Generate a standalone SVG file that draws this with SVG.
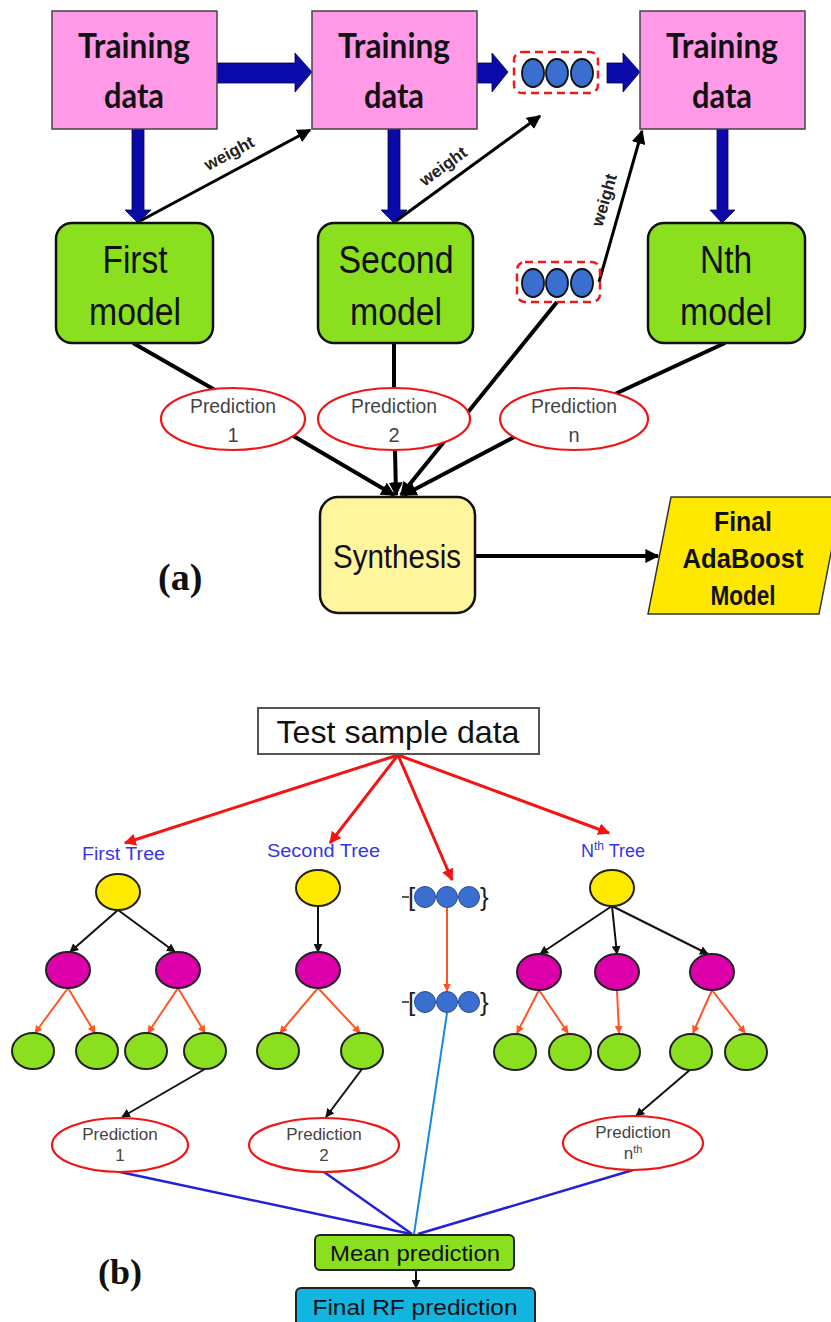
<svg xmlns="http://www.w3.org/2000/svg" width="831" height="1322" viewBox="0 0 831 1322">
<style>
.train{fill:#ff99e8;stroke:#444;stroke-width:1.5}
.model{fill:#8ae01e;stroke:#111;stroke-width:2.5}
.tt{font-family:Lato,"Liberation Sans",sans-serif;font-weight:bold;font-size:35px;fill:#111;text-anchor:middle}
.mt{font-family:"Liberation Sans",Arial,sans-serif;font-size:38px;fill:#111;text-anchor:middle}
.big{fill:#0a0aa8;stroke:#000050;stroke-width:0.8}
.dash{fill:none;stroke:#f01818;stroke-width:2.5;stroke-dasharray:8 5}
.dot{fill:#3a6fd0;stroke:#111;stroke-width:1.8}
.pred{fill:#fff;stroke:#ee1515;stroke-width:2.2}
.pt{font-family:"Liberation Sans",Arial,sans-serif;font-size:20px;fill:#444;text-anchor:middle}
.pt2{font-family:"Liberation Sans",Arial,sans-serif;font-size:17px;fill:#444;text-anchor:middle}
.wt{font-family:"Liberation Sans",Arial,sans-serif;font-weight:bold;font-size:17px;fill:#222;text-anchor:middle}
.ft{font-family:"Liberation Sans",Arial,sans-serif;font-weight:bold;font-size:28px;fill:#111;text-anchor:middle}
.thick{stroke:#000;stroke-width:4;fill:none}
.wl{stroke:#000;stroke-width:3;fill:none}
.red{stroke:#f41414;stroke-width:3;fill:none}
.blk{stroke:#111;stroke-width:2;fill:none}
.org{stroke:#ff5522;stroke-width:2;fill:none}
.blu{stroke:#2222d8;stroke-width:2.5;fill:none}
.lblu{stroke:#1a88dd;stroke-width:2;fill:none}
.yel{fill:#ffea00;stroke:#222;stroke-width:2}
.mag{fill:#dd00aa;stroke:#222;stroke-width:2}
.grn{fill:#8ae01e;stroke:#222;stroke-width:2}
.tl{font-family:"Liberation Sans",Arial,sans-serif;font-size:18px;fill:#3636e6}
.bd{fill:#3a6fd0;stroke:#2a4a90;stroke-width:1}
.br{font-family:"Liberation Sans",Arial,sans-serif;font-size:26px;fill:#222}
.lab{font-family:"Liberation Serif","Times New Roman",serif;font-weight:bold;font-size:38px;fill:#111}
</style>
<defs>
<marker id="ah" viewBox="0 0 10 10" refX="9" refY="5" markerWidth="14" markerHeight="14" markerUnits="userSpaceOnUse" orient="auto"><path d="M0,0 L10,5 L0,10 z" fill="#000"/></marker>
<marker id="ahr" viewBox="0 0 10 10" refX="9" refY="5" markerWidth="12" markerHeight="12" markerUnits="userSpaceOnUse" orient="auto"><path d="M0,0 L10,5 L0,10 z" fill="#f41414"/></marker>
<marker id="ahk" viewBox="0 0 10 10" refX="9" refY="5" markerWidth="9" markerHeight="9" markerUnits="userSpaceOnUse" orient="auto"><path d="M0,0 L10,5 L0,10 z" fill="#111"/></marker>
<marker id="aho" viewBox="0 0 10 10" refX="9" refY="5" markerWidth="8" markerHeight="8" markerUnits="userSpaceOnUse" orient="auto"><path d="M0,0 L10,5 L0,10 z" fill="#ff5522"/></marker>
</defs>
<rect width="831" height="1322" fill="#fff"/>

<g id="connectors">
  <polygon class="big" points="217,63 295,63 295,53 312,72 295,92 295,83 217,83"/>
  <polygon class="big" points="477,63 492,63 492,53 508,72 492,92 492,83 477,83"/>
  <polygon class="big" points="607,63 623,63 623,53 640,72 623,92 623,83 607,83"/>
  <polygon class="big" points="132,129 144,129 144,210 151,210 138,223 125,210 132,210"/>
  <polygon class="big" points="388,129 400,129 400,210 407,210 394,223 381,210 388,210"/>
  <polygon class="big" points="717,129 728,129 728,210 735,210 722,223 710,210 717,210"/>
  <line class="wl" x1="140" y1="221" x2="310" y2="130" marker-end="url(#ah)"/>
  <line class="wl" x1="396" y1="221" x2="540" y2="116" marker-end="url(#ah)"/>
  <line class="wl" x1="599" y1="282" x2="642" y2="131" marker-end="url(#ah)"/>
  <line class="thick" x1="133" y1="343" x2="215" y2="390"/>
  <line class="thick" x1="394" y1="343" x2="394" y2="390"/>
  <line class="thick" x1="725" y1="343" x2="615" y2="394"/>
  <line class="thick" x1="290" y1="434" x2="394" y2="495" marker-end="url(#ah)"/>
  <line class="thick" x1="395" y1="450" x2="396" y2="495" marker-end="url(#ah)"/>
  <line class="thick" x1="557" y1="302" x2="401" y2="495" marker-end="url(#ah)"/>
  <line class="thick" x1="520" y1="434" x2="404" y2="495" marker-end="url(#ah)"/>
  <line class="thick" x1="475" y1="556" x2="658" y2="556" marker-end="url(#ah)"/>
  <line class="red" x1="398" y1="755" x2="125" y2="843" marker-end="url(#ahr)"/>
  <line class="red" x1="398" y1="755" x2="330" y2="843" marker-end="url(#ahr)"/>
  <line class="red" x1="398" y1="755" x2="452" y2="880" marker-end="url(#ahr)"/>
  <line class="red" x1="398" y1="755" x2="609" y2="833" marker-end="url(#ahr)"/>
  <line class="blk" x1="118" y1="910" x2="70" y2="952" marker-end="url(#ahk)"/>
  <line class="blk" x1="118" y1="910" x2="175" y2="952" marker-end="url(#ahk)"/>
  <line class="org" x1="68" y1="988" x2="35" y2="1033" marker-end="url(#aho)"/>
  <line class="org" x1="68" y1="988" x2="95" y2="1033" marker-end="url(#aho)"/>
  <line class="org" x1="178" y1="988" x2="148" y2="1033" marker-end="url(#aho)"/>
  <line class="org" x1="178" y1="988" x2="205" y2="1033" marker-end="url(#aho)"/>
  <line class="blk" x1="318" y1="906" x2="318" y2="952" marker-end="url(#ahk)"/>
  <line class="org" x1="318" y1="988" x2="280" y2="1033" marker-end="url(#aho)"/>
  <line class="org" x1="318" y1="988" x2="360" y2="1033" marker-end="url(#aho)"/>
  <line class="blk" x1="612" y1="906" x2="540" y2="954" marker-end="url(#ahk)"/>
  <line class="blk" x1="612" y1="906" x2="617" y2="954" marker-end="url(#ahk)"/>
  <line class="blk" x1="612" y1="906" x2="708" y2="954" marker-end="url(#ahk)"/>
  <line class="org" x1="539" y1="990" x2="517" y2="1033" marker-end="url(#aho)"/>
  <line class="org" x1="539" y1="990" x2="568" y2="1033" marker-end="url(#aho)"/>
  <line class="org" x1="617" y1="990" x2="619" y2="1033" marker-end="url(#aho)"/>
  <line class="org" x1="712" y1="990" x2="693" y2="1033" marker-end="url(#aho)"/>
  <line class="org" x1="712" y1="990" x2="745" y2="1033" marker-end="url(#aho)"/>
  <line class="org" x1="447" y1="908" x2="447" y2="991" marker-end="url(#aho)"/>
  <line class="lblu" x1="447" y1="1013" x2="414" y2="1234"/>
  <line class="blk" x1="205" y1="1069" x2="122" y2="1117" marker-end="url(#ahk)"/>
  <line class="blk" x1="362" y1="1069" x2="326" y2="1117" marker-end="url(#ahk)"/>
  <line class="blk" x1="691" y1="1069" x2="636" y2="1116" marker-end="url(#ahk)"/>
  <line class="blu" x1="120" y1="1172" x2="411" y2="1234"/>
  <line class="blu" x1="324" y1="1172" x2="412" y2="1234"/>
  <line class="blu" x1="633" y1="1170" x2="418" y2="1234"/>
  <line class="blk" x1="416" y1="1270" x2="416" y2="1288" marker-end="url(#ahk)"/>
</g>

<g id="train1"><rect class="train" x="52" y="11" width="165" height="118"/>
  <text class="tt" x="134" y="58" textLength="112" lengthAdjust="spacingAndGlyphs">Training</text>
  <text class="tt" x="134" y="108" textLength="60" lengthAdjust="spacingAndGlyphs">data</text></g>
<g id="train2"><rect class="train" x="312" y="11" width="165" height="118"/>
  <text class="tt" x="394" y="58" textLength="112" lengthAdjust="spacingAndGlyphs">Training</text>
  <text class="tt" x="394" y="108" textLength="60" lengthAdjust="spacingAndGlyphs">data</text></g>
<g id="train3"><rect class="train" x="640" y="11" width="165" height="118"/>
  <text class="tt" x="722" y="58" textLength="112" lengthAdjust="spacingAndGlyphs">Training</text>
  <text class="tt" x="722" y="108" textLength="60" lengthAdjust="spacingAndGlyphs">data</text></g>

<g id="dotsTop"><rect class="dash" x="514" y="52" width="84" height="41" rx="8"/>
  <ellipse class="dot" cx="533" cy="73" rx="11" ry="14"/><ellipse class="dot" cx="557" cy="73" rx="11" ry="14"/><ellipse class="dot" cx="582" cy="73" rx="11" ry="14"/></g>
<g id="dotsMid"><rect class="dash" x="517" y="262" width="83" height="40" rx="8"/>
  <ellipse class="dot" cx="533" cy="283" rx="11" ry="14"/><ellipse class="dot" cx="557" cy="283" rx="11" ry="14"/><ellipse class="dot" cx="582" cy="283" rx="11" ry="14"/></g>

<g id="weights">
  <text class="wt" transform="translate(229,153) rotate(-28)" y="6">weight</text>
  <text class="wt" transform="translate(443,166) rotate(-36)" y="6">weight</text>
  <text class="wt" transform="translate(604,200) rotate(-74)" y="6">weight</text>
</g>

<g id="model1"><rect class="model" x="56" y="223" width="157" height="120" rx="16"/>
  <text class="mt" x="135" y="273" textLength="65" lengthAdjust="spacingAndGlyphs">First</text>
  <text class="mt" x="135" y="325" textLength="92" lengthAdjust="spacingAndGlyphs">model</text></g>
<g id="model2"><rect class="model" x="318" y="223" width="155" height="120" rx="16"/>
  <text class="mt" x="396" y="273" textLength="115" lengthAdjust="spacingAndGlyphs">Second</text>
  <text class="mt" x="396" y="325" textLength="92" lengthAdjust="spacingAndGlyphs">model</text></g>
<g id="modelN"><rect class="model" x="648" y="223" width="157" height="120" rx="16"/>
  <text class="mt" x="726" y="273" textLength="52" lengthAdjust="spacingAndGlyphs">Nth</text>
  <text class="mt" x="726" y="325" textLength="92" lengthAdjust="spacingAndGlyphs">model</text></g>

<g id="predA1"><ellipse class="pred" cx="233" cy="419" rx="72" ry="31"/>
  <text class="pt" x="233" y="413" textLength="86" lengthAdjust="spacingAndGlyphs">Prediction</text><text class="pt" x="233" y="442">1</text></g>
<g id="predA2"><ellipse class="pred" cx="394" cy="419" rx="76" ry="31"/>
  <text class="pt" x="394" y="413" textLength="86" lengthAdjust="spacingAndGlyphs">Prediction</text><text class="pt" x="394" y="442">2</text></g>
<g id="predAn"><ellipse class="pred" cx="574" cy="419" rx="74" ry="31"/>
  <text class="pt" x="574" y="413" textLength="86" lengthAdjust="spacingAndGlyphs">Prediction</text><text class="pt" x="574" y="442">n</text></g>

<g id="synthesis"><rect x="320" y="497" width="155" height="116" rx="18" fill="#fff59c" stroke="#111" stroke-width="2.5"/>
  <text class="mt" x="397" y="568" style="font-size:34px" textLength="128" lengthAdjust="spacingAndGlyphs">Synthesis</text></g>
<g id="finalAda"><polygon points="671,497 842,497 819,614 648,614" fill="#ffe800" stroke="#333" stroke-width="1.5"/>
  <text class="ft" x="743" y="531" textLength="58" lengthAdjust="spacingAndGlyphs">Final</text>
  <text class="ft" x="743" y="568" textLength="121" lengthAdjust="spacingAndGlyphs">AdaBoost</text>
  <text class="ft" x="743" y="605" textLength="65" lengthAdjust="spacingAndGlyphs">Model</text></g>
<text class="lab" x="158" y="590">(a)</text>

<g id="testSample"><rect x="258" y="708" width="281" height="46" fill="#fff" stroke="#555" stroke-width="2"/>
  <text x="398" y="743" font-family="'Liberation Sans',Arial,sans-serif" font-size="32" fill="#111" text-anchor="middle" textLength="243" lengthAdjust="spacingAndGlyphs">Test sample data</text></g>

<text class="tl" x="82" y="860" textLength="83" lengthAdjust="spacingAndGlyphs">First Tree</text>
<text class="tl" x="267" y="857" textLength="113" lengthAdjust="spacingAndGlyphs">Second Tree</text>
<text class="tl" x="581" y="857">N<tspan dy="-7" font-size="12">th</tspan><tspan dy="7"> Tree</tspan></text>

<g id="tree1">
  <ellipse class="yel" cx="118" cy="892" rx="22" ry="18"/>
  <ellipse class="mag" cx="68" cy="970" rx="22" ry="18"/><ellipse class="mag" cx="178" cy="970" rx="22" ry="18"/>
  <ellipse class="grn" cx="33" cy="1051" rx="21" ry="18"/><ellipse class="grn" cx="97" cy="1051" rx="21" ry="18"/>
  <ellipse class="grn" cx="146" cy="1051" rx="21" ry="18"/><ellipse class="grn" cx="205" cy="1051" rx="21" ry="18"/>
</g>
<g id="tree2">
  <ellipse class="yel" cx="318" cy="888" rx="22" ry="18"/>
  <ellipse class="mag" cx="318" cy="970" rx="22" ry="18"/>
  <ellipse class="grn" cx="278" cy="1051" rx="21" ry="18"/><ellipse class="grn" cx="362" cy="1051" rx="21" ry="18"/>
</g>
<g id="treeN">
  <ellipse class="yel" cx="612" cy="888" rx="22" ry="18"/>
  <ellipse class="mag" cx="539" cy="972" rx="22" ry="18"/><ellipse class="mag" cx="617" cy="972" rx="22" ry="18"/><ellipse class="mag" cx="712" cy="972" rx="22" ry="18"/>
  <ellipse class="grn" cx="515" cy="1052" rx="21" ry="18"/><ellipse class="grn" cx="570" cy="1052" rx="21" ry="18"/>
  <ellipse class="grn" cx="619" cy="1052" rx="21" ry="18"/><ellipse class="grn" cx="691" cy="1052" rx="21" ry="18"/><ellipse class="grn" cx="746" cy="1052" rx="21" ry="18"/>
</g>

<g id="dotsB1">
  <line x1="402" y1="897" x2="409" y2="897" stroke="#222" stroke-width="1.5"/>
  <text class="br" x="408" y="906">[</text>
  <circle class="bd" cx="425" cy="897" r="10.5"/><circle class="bd" cx="447" cy="897" r="10.5"/><circle class="bd" cx="469" cy="897" r="10.5"/>
  <text class="br" x="480" y="906">}</text>
</g>
<g id="dotsB2">
  <line x1="402" y1="1002" x2="409" y2="1002" stroke="#222" stroke-width="1.5"/>
  <text class="br" x="408" y="1011">[</text>
  <circle class="bd" cx="425" cy="1002" r="10.5"/><circle class="bd" cx="447" cy="1002" r="10.5"/><circle class="bd" cx="469" cy="1002" r="10.5"/>
  <text class="br" x="480" y="1011">}</text>
</g>

<g id="predB1"><ellipse class="pred" cx="120" cy="1145" rx="68" ry="27"/>
  <text class="pt2" x="120" y="1140">Prediction</text><text class="pt2" x="120" y="1161">1</text></g>
<g id="predB2"><ellipse class="pred" cx="324" cy="1145" rx="75" ry="27"/>
  <text class="pt2" x="324" y="1140">Prediction</text><text class="pt2" x="324" y="1161">2</text></g>
<g id="predBn"><ellipse class="pred" cx="633" cy="1143" rx="70" ry="27"/>
  <text class="pt2" x="633" y="1138">Prediction</text><text class="pt2" x="633" y="1159">n<tspan dy="-6" font-size="11">th</tspan></text></g>

<g id="meanPred"><rect x="315" y="1235" width="199" height="35" rx="5" fill="#8ae01e" stroke="#222" stroke-width="2"/>
  <text x="415" y="1261" font-family="'Liberation Sans',Arial,sans-serif" font-size="22" fill="#111" text-anchor="middle" textLength="170" lengthAdjust="spacingAndGlyphs">Mean prediction</text></g>
<g id="finalRF"><rect x="296" y="1288" width="239" height="40" rx="5" fill="#12b4e0" stroke="#222" stroke-width="2"/>
  <text x="415" y="1315" font-family="'Liberation Sans',Arial,sans-serif" font-size="22" fill="#111" text-anchor="middle" textLength="205" lengthAdjust="spacingAndGlyphs">Final RF prediction</text></g>
<text class="lab" x="98" y="1284" style="font-size:36px">(b)</text>
</svg>
